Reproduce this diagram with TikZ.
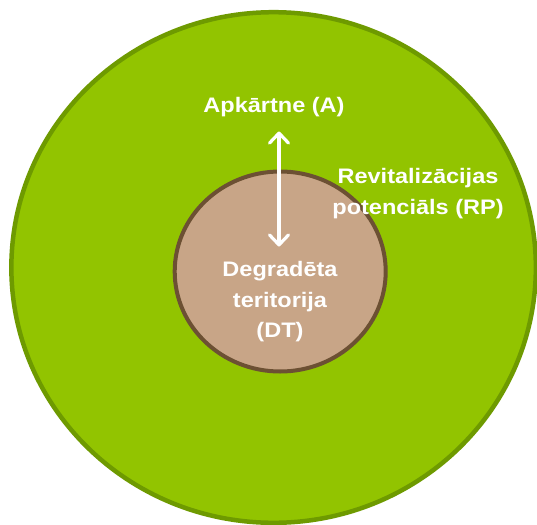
\documentclass[tikz,border=0pt]{standalone}
\usepackage{fontspec}
\newfontfamily\lblfont{Liberation Sans}[FakeStretch=1.12]
\usetikzlibrary{shapes.geometric,arrows.meta}
\definecolor{outerfill}{HTML}{92C400}
\definecolor{outerline}{HTML}{6E9A00}
\definecolor{innerfill}{HTML}{C8A587}
\definecolor{innerline}{HTML}{6C5033}
\tikzset{
  lbl/.style={text=white, font=\lblfont\bfseries\fontsize{21}{30.5}\selectfont, align=center, inner sep=0pt},
  dbl/.style={draw=white, line width=3.2pt, {Straight Barb[length=10pt,width=19pt,line cap=round,line join=round]}-{Straight Barb[length=10pt,width=19pt,line cap=round,line join=round]}}
}
\begin{document}
\begin{tikzpicture}[x=1pt,y=-1pt]
\useasboundingbox (0,0) rectangle (537,524);
\fill[white] (0,0) rectangle (537,524);
\node[ellipse, draw=outerline, fill=outerfill, line width=4.5pt, minimum width=524.5pt, minimum height=510.6pt, inner sep=0pt] (outer) at (273.6,267.5) {};
\node[ellipse, draw=innerline, fill=innerfill, line width=4pt, minimum width=211pt, minimum height=200pt, inner sep=0pt] (inner) at (280.2,271.5) {};
\node[lbl, anchor=base] (A) at (274,113) {Apkārtne (A)};
\node[lbl, anchor=base] (DT) at (280,337.7) {Degradēta\\teritorija\\(DT)};
\node[lbl, anchor=base] (RP) at (418,214) {Revitalizācijas\\potenciāls (RP)};
\coordinate (atop) at (279,131.5);
\coordinate (abot) at (279,246.5);
\draw[dbl] (atop) -- (abot);
\end{tikzpicture}
\end{document}
